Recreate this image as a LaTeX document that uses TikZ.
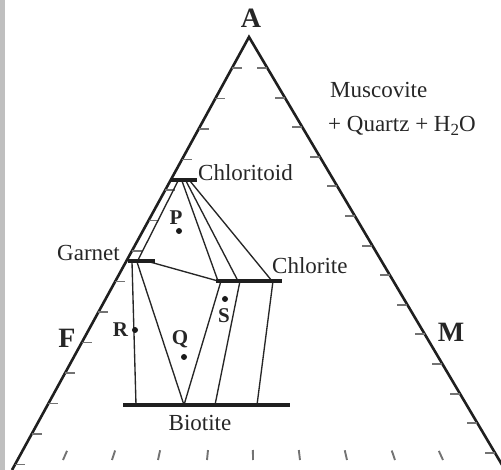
\documentclass[tikz,border=0pt]{standalone}
\usepackage{fontspec}
\setmainfont{Liberation Serif}
\usetikzlibrary{calc}
\begin{document}
\begin{tikzpicture}[x=1pt,y=-1pt,
  side/.style={line width=2.6pt, color=black!88},
  tie/.style={line width=1.35pt, color=black!85},
  bar/.style={line width=4.8pt, color=black!88},
  tickmark/.style={line width=1.9pt, color=black!55},
  mineral/.style={inner sep=0pt, font=\fontsize{23}{26}\selectfont, text=black!85},
  corner/.style={inner sep=0pt, font=\fontsize{28}{30}\selectfont\bfseries, text=black!85},
  plabel/.style={inner sep=0pt, font=\fontsize{21}{24}\selectfont\bfseries, text=black!85},
  dot/.style={circle, fill=black!90, inner sep=0pt, minimum size=6pt}]
\useasboundingbox (0,0) rectangle (501,470);
\fill[black!25] (0,0) rectangle (5,470);
\coordinate (apex) at (249,37);
\coordinate (lb) at (12,470);
\coordinate (rb) at (505.1,470);
\begin{scope}
\clip (0,0) rectangle (501,470);
\draw[side] (lb) -- (apex) -- (rb);
\end{scope}
% side ticks
\foreach \k in {0,...,13}{
  \pgfmathsetmacro\yy{68+30.5*\k}
  \pgfmathsetmacro\xx{249-0.5473*(\yy-37)}
  \draw[tickmark] (\xx,\yy) -- ++(10,0);
  \pgfmathsetmacro\yr{68+29.6*\k}
  \pgfmathsetmacro\xr{249+0.5914*(\yr-37)}
  \draw[tickmark] (\xr,\yr) -- ++(-10,0);
}
% base ticks
\foreach \x in {63,112,158,207,253,300,347,395,443}{
  \draw[tickmark] (\x,460) -- ($(\x,460)!10pt!(apex)$);
}
% bars
\coordinate (ctdL) at (170,180); \coordinate (ctdR) at (197,180);
\coordinate (grtL) at (128,261); \coordinate (grtR) at (155,261);
\coordinate (chlL) at (216,281); \coordinate (chlR) at (282,281);
\coordinate (btL) at (123,405); \coordinate (btR) at (290,405);
% tie line endpoints
\coordinate (c1) at (178,181); \coordinate (c2) at (182,181);
\coordinate (c3) at (186,181); \coordinate (c4) at (190,181);
\coordinate (g1) at (132,262); \coordinate (g2) at (137,262);
\coordinate (g3) at (137,262); \coordinate (g4) at (150,262);
\coordinate (h1) at (218,281); \coordinate (h2) at (221,281);
\coordinate (h3) at (238,281); \coordinate (h4) at (240,281);
\coordinate (h5) at (272,281); \coordinate (h6) at (273,281);
\coordinate (b1) at (136,405); \coordinate (b2) at (184,405);
\coordinate (b3) at (215,405); \coordinate (b4) at (257,405);
\draw[tie] (c1) -- (g3);
\draw[tie] (c2) -- (h1);
\draw[tie] (c3) -- (h3);
\draw[tie] (c4) -- (h5);
\draw[tie] (g4) -- (h1);
\draw[tie] (g1) -- (b1);
\draw[tie] (g2) -- (b2);
\draw[tie] (h2) -- (b2);
\draw[tie] (h4) -- (b3);
\draw[tie] (h6) -- (b4);
\draw[bar] (ctdL) -- (ctdR);
\draw[bar] (grtL) -- (grtR);
\draw[bar] (chlL) -- (chlR);
\draw[bar] (btL) -- (btR);
% dots
\node[dot] (dP) at (179,231) {};
\node[dot] (dS) at (225,299) {};
\node[dot] (dQ) at (184,357) {};
\node[dot] (dR) at (135,330) {};
% labels
\node[corner, anchor=base] (lA) at (251,28) {A};
\node[corner, anchor=base] (lF) at (67,348) {F};
\node[corner, anchor=base] (lM) at (451,342) {M};
\node[plabel, anchor=base] (lP) at (176,225) {P};
\node[plabel, anchor=base] (lS) at (224,323) {S};
\node[plabel, anchor=base] (lQ) at (180,345) {Q};
\node[plabel, anchor=base] (lR) at (120.5,337) {R};
\node[mineral, anchor=base west] (tCtd) at (198,181) {Chloritoid};
\node[mineral, anchor=base east] (tGrt) at (120,261) {Garnet};
\node[mineral, anchor=base west] (tChl) at (272,274) {Chlorite};
\node[mineral, anchor=base] (tBt) at (200,431) {Biotite};
\node[mineral, anchor=base west] (tMs) at (330,98) {Muscovite};
\node[mineral, anchor=base west] (tQz) at (328,132) {+ Quartz + H\raisebox{-0.35ex}{\fontsize{17}{18}\selectfont 2}O};
\end{tikzpicture}
\end{document}
